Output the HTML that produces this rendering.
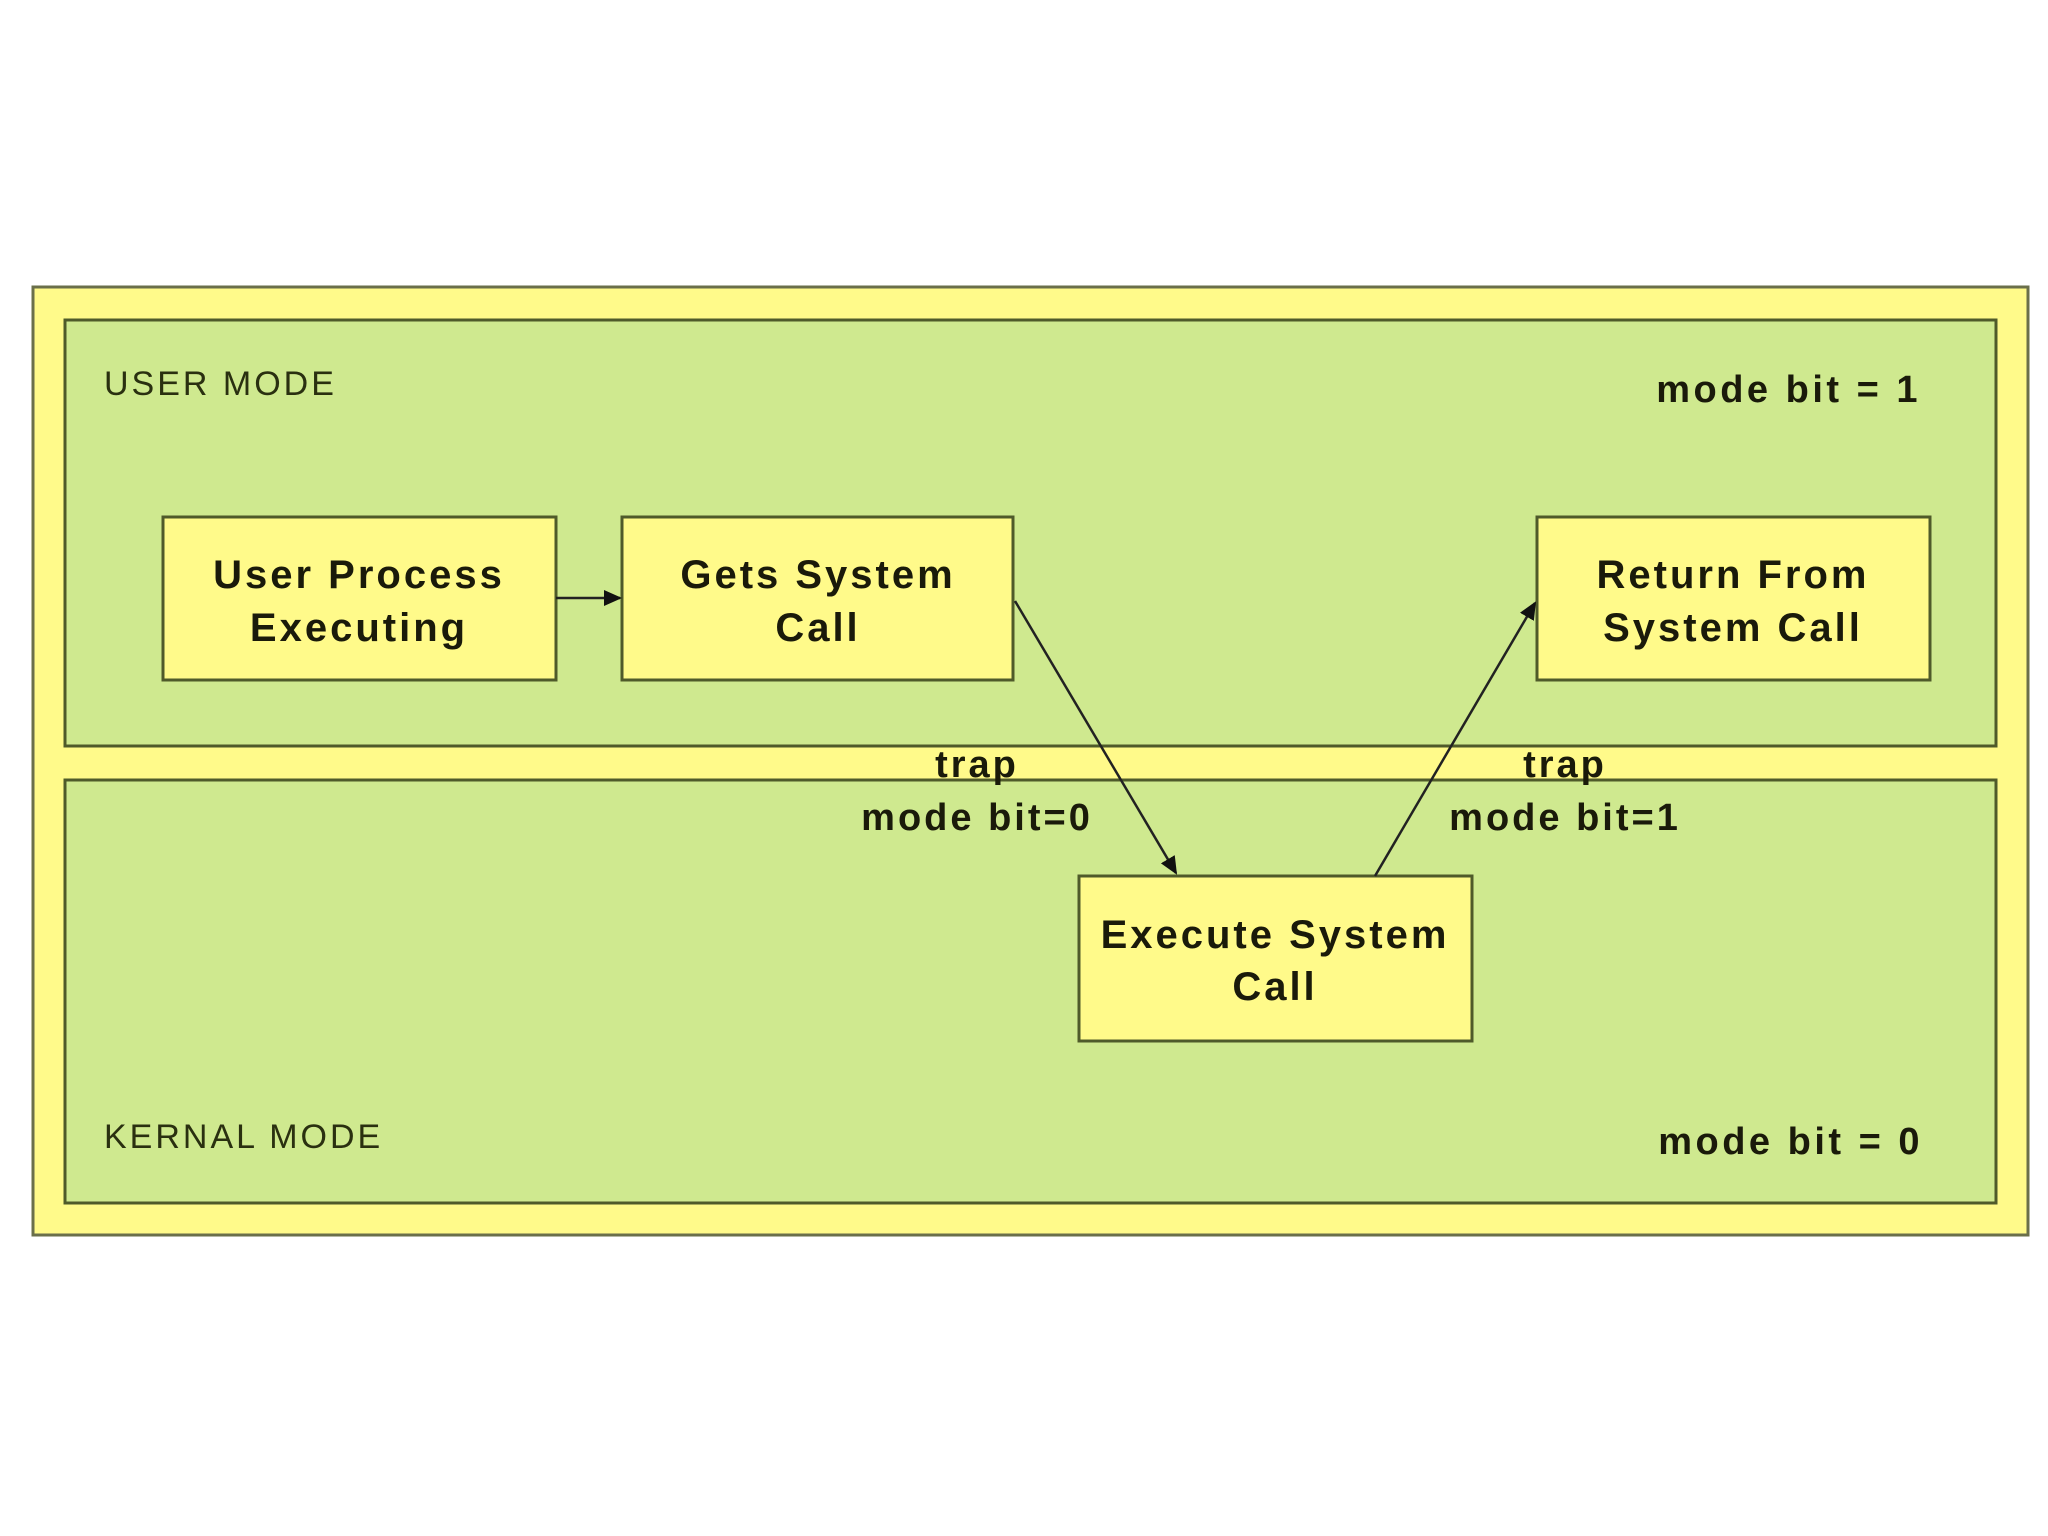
<!DOCTYPE html>
<html><head><meta charset="utf-8"><style>
html,body{margin:0;padding:0;background:#fff;}
svg{display:block;}
text{font-family:"Liberation Sans",sans-serif;fill:#1a1a0a;}
.b{font-weight:bold;font-size:40px;letter-spacing:3px;}
</style></head><body>
<svg width="2048" height="1536" viewBox="0 0 2048 1536" xmlns="http://www.w3.org/2000/svg">
<defs><marker id="ar" markerWidth="18" markerHeight="16" refX="16" refY="8" orient="auto" markerUnits="userSpaceOnUse" viewBox="0 0 18 16"><path d="M0,0 L18,8 L0,16 z" fill="#111"/></marker></defs>
<rect x="0" y="0" width="2048" height="1536" fill="#fff"/>
<rect x="33" y="287" width="1995" height="948" fill="#fffa8a" stroke="#6a6f4a" stroke-width="3"/>
<rect x="65" y="320" width="1931" height="426" fill="#cfe98f" stroke="#4f5a2a" stroke-width="3"/>
<rect x="65" y="780" width="1931" height="423" fill="#cfe98f" stroke="#4f5a2a" stroke-width="3"/>
<text x="104" y="395" font-size="34" letter-spacing="3" style="fill:#2a3010">USER MODE</text>
<text x="1921" y="402" font-size="38" font-weight="bold" letter-spacing="3.5" text-anchor="end">mode bit = 1</text>
<text x="104" y="1148" font-size="34" letter-spacing="3" style="fill:#2a3010">KERNAL MODE</text>
<text x="1923" y="1154" font-size="38" font-weight="bold" letter-spacing="3.5" text-anchor="end">mode bit = 0</text>
<g fill="#fffa8a" stroke="#4f5a2a" stroke-width="3">
<rect x="163" y="517" width="393" height="163"/>
<rect x="622" y="517" width="391" height="163"/>
<rect x="1537" y="517" width="393" height="163"/>
<rect x="1079" y="876" width="393" height="165"/>
</g>
<g text-anchor="middle">
<text class="b" x="359" y="588">User Process</text><text class="b" x="359" y="641">Executing</text>
<text class="b" x="818" y="588">Gets System</text><text class="b" x="818" y="641">Call</text>
<text class="b" x="1733" y="588">Return From</text><text class="b" x="1733" y="641">System Call</text>
<text class="b" x="1275" y="948">Execute System</text><text class="b" x="1275" y="1000">Call</text>
</g>
<g stroke="#222" stroke-width="2.5" fill="none" marker-end="url(#ar)">
<line x1="556" y1="598" x2="620" y2="598"/>
<line x1="1015" y1="601" x2="1176" y2="873"/>
<line x1="1375" y1="876" x2="1535" y2="603"/>
</g>
<g font-size="38" font-weight="bold" text-anchor="middle" letter-spacing="3">
<text x="977" y="777">trap</text><text x="977" y="830">mode bit=0</text>
<text x="1565" y="777">trap</text><text x="1565" y="830">mode bit=1</text>
</g>
</svg>
</body></html>
